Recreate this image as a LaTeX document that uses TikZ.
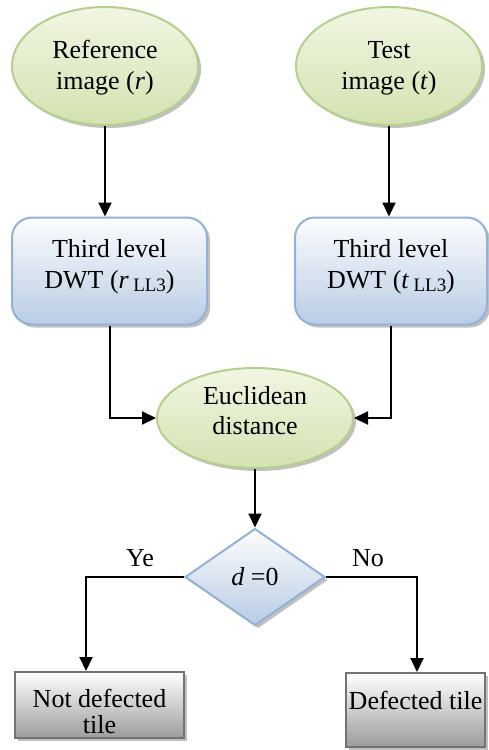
\documentclass[tikz,border=0pt]{standalone}
\usepackage{fontspec}
\setmainfont{Liberation Serif}
\usetikzlibrary{shapes.geometric,arrows.meta,shadows}
\definecolor{gfillA}{HTML}{F1F6E3}
\definecolor{gfillB}{HTML}{D3E2B0}
\definecolor{gline}{HTML}{B5CF8C}
\definecolor{bfillA}{HTML}{FCFDFE}
\definecolor{bfillB}{HTML}{B8CCE4}
\definecolor{bline}{HTML}{93B1D6}
\definecolor{kfillB}{HTML}{9C9C9C}
\definecolor{kline}{HTML}{727272}
\newcommand{\subtxt}[1]{\raisebox{-1.5pt}{\fontsize{9.5}{10}\selectfont #1}}
\begin{document}
\begin{tikzpicture}[x=0.5pt,y=-0.5pt,
  txt/.style={font=\fontsize{13}{15.5}\selectfont},
  shad/.style={drop shadow={shadow xshift=1.5pt,shadow yshift=-1.5pt,fill=black!45,opacity=0.55}},
  ell/.style={ellipse,draw=gline,line width=1pt,top color=gfillA,bottom color=gfillB,shad,inner sep=0pt,align=center,txt},
  bbox/.style={rectangle,rounded corners=10pt,draw=bline,line width=1pt,top color=bfillA,bottom color=bfillB,shad,inner sep=0pt,align=center,txt},
  dia/.style={diamond,aspect=1.44,draw=bline,line width=1pt,top color=bfillA,bottom color=bfillB,shad,inner sep=0pt,txt},
  gbox/.style={rectangle,draw=kline,line width=1pt,top color=white,bottom color=kfillB,shad,inner xsep=1pt,inner ysep=0pt,align=center,txt},
  arr/.style={line width=1pt,-{Triangle[length=7pt,width=6.5pt]}},
  lab/.style={txt}
]
\useasboundingbox (0,0) rectangle (488,750);
\node[ell,minimum width=93pt,minimum height=59pt,text height=26pt] (ref) at (105,66) {Reference\\image (\textit{r})};
\node[ell,minimum width=93pt,minimum height=59pt,text height=26pt] (test) at (389,66) {Test\\image (\textit{t})};
\node[bbox,minimum width=97.5pt,minimum height=53.5pt,text height=20pt] (b1) at (109.5,271) {Third level\\DWT (\textit{r}\,\subtxt{LL3})};
\node[bbox,minimum width=96pt,minimum height=53.5pt,text height=20pt] (b2) at (391,271) {Third level\\DWT (\textit{t}\,\subtxt{LL3})};
\node[ell,minimum width=98pt,minimum height=50pt,font=\fontsize{13}{15}\selectfont,text height=17pt] (euc) at (255,418) {Euclidean\\distance};
\node[dia,minimum width=70pt,minimum height=48.5pt] (d) at (255,577) {\textit{d} =0};
\node[gbox,minimum width=84.5pt,minimum height=33pt,font=\fontsize{13}{13}\selectfont,text height=28.5pt] (n1) at (99.5,705) {Not defected\\tile};
\node[gbox,minimum width=69.5pt,minimum height=37pt,text depth=10pt] (n2) at (415.5,710) {Defected tile};
\node[lab] (ye) at (140,558) {Ye};
\node[lab] (no) at (368,558) {No};
\draw[arr] (ref.south) -- (ref.south |- b1.north);
\draw[arr] (test.south) -- (test.south |- b2.north);
\draw[arr] (b1.south) |- (euc.west);
\draw[arr] (b2.south) |- (euc.east);
\draw[arr] (euc.south) -- (d.north);
\draw[arr] (d.west) -| ([xshift=-6.75pt]n1.north);
\draw[arr] (d.east) -| ([xshift=0.75pt]n2.north);
\end{tikzpicture}
\end{document}
